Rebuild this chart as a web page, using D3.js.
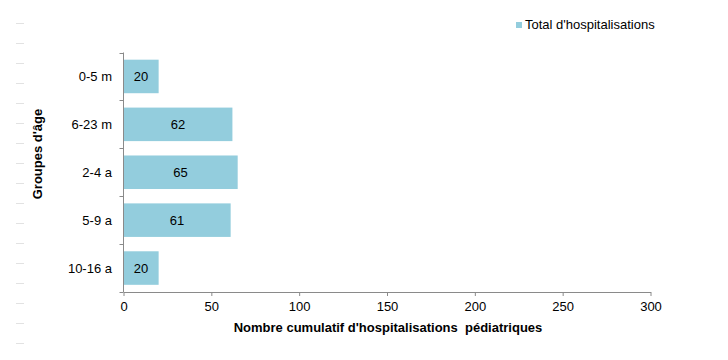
<!DOCTYPE html>
<html><head><meta charset="utf-8">
<script src="https://cdn.jsdelivr.net/npm/d3@7"></script>
<style>body{margin:0;background:#fff;} text{font-family:Arial,"Liberation Sans",sans-serif;}</style>
</head><body>
<svg id="c" width="728" height="360"></svg>
<script>
const categories = ["0-5 m","6-23 m","2-4 a","5-9 a","10-16 a"];
const values = [20,62,65,61,20];
const xTicks = [0,50,100,150,200,250,300];
const seriesName = "Total d'hospitalisations";
const xTitle = "Nombre cumulatif d'hospitalisations  pédiatriques";
const yTitle = "Groupes d'âge";

const svg = d3.select("#c");
const color = "#93CDDD";
const axisColor = "#8a8a8a";
const fs = 13;
const pLeft = 123.5, pRight = 650.5, pTop = 52.5, pBottom = 292;

// faint decorative dashes on left
const dashY = d3.range(23, 350, 20);
svg.selectAll("line.dash").data(dashY).enter().append("line")
  .attr("x1",16).attr("x2",24).attr("y1",d=>d+0.5).attr("y2",d=>d+0.5)
  .attr("stroke","#e2e2e2").attr("stroke-width",1);

const x = d3.scaleLinear().domain([0,300]).range([pLeft,pRight]);
const y = d3.scaleBand().domain(categories).range([pTop,pBottom]).paddingInner(0.3).paddingOuter(0.15);

svg.selectAll("rect.bar").data(values).enter().append("rect")
  .attr("x",x(0)).attr("y",(d,i)=>y(categories[i]))
  .attr("width",d=>x(d)-x(0)).attr("height",y.bandwidth()).attr("fill",color);

svg.selectAll("text.val").data(values).enter().append("text")
  .attr("x",d=>(x(0)+x(d))/2).attr("y",(d,i)=>y(categories[i])+y.bandwidth()/2+5)
  .attr("text-anchor","middle").attr("font-size",fs).attr("fill","#000").text(d=>d);

// y axis
const yg = svg.append("g");
yg.append("line").attr("x1",pLeft).attr("x2",pLeft).attr("y1",pTop).attr("y2",pBottom).attr("stroke",axisColor);
const bounds = categories.map(c=>y(c)-y.step()*y.paddingInner()/2).concat([pBottom]);
yg.selectAll("line.t").data(bounds).enter().append("line")
  .attr("x1",pLeft-4).attr("x2",pLeft).attr("y1",d=>Math.round(d)+0.5).attr("y2",d=>Math.round(d)+0.5).attr("stroke",axisColor);
yg.selectAll("text").data(categories).enter().append("text")
  .attr("x",112).attr("y",c=>y(c)+y.bandwidth()/2+5).attr("text-anchor","end")
  .attr("font-size",fs).attr("fill","#000").text(c=>c);

// x axis
const xg = svg.append("g").attr("transform",`translate(0,${pBottom})`);
xg.call(d3.axisBottom(x).tickValues(xTicks).tickSize(4).tickSizeOuter(0).tickPadding(6));
xg.select(".domain").attr("stroke",axisColor);
xg.selectAll(".tick line").attr("stroke",axisColor);
xg.selectAll(".tick text").attr("font-size",fs).attr("fill","#000").attr("font-family","Arial, 'Liberation Sans', sans-serif");

svg.append("text").attr("x",388).attr("y",332).attr("text-anchor","middle")
  .attr("font-size",fs).attr("font-weight","bold").style("white-space","pre").text(xTitle);
svg.append("text").attr("transform","translate(42,154) rotate(-90)").attr("text-anchor","middle")
  .attr("font-size",fs).attr("font-weight","bold").text(yTitle);

// legend
svg.append("rect").attr("x",516).attr("y",22).attr("width",6).attr("height",6).attr("fill",color);
svg.append("text").attr("x",525).attr("y",29).attr("font-size",fs).attr("fill","#000").text(seriesName);
</script>
</body></html>
